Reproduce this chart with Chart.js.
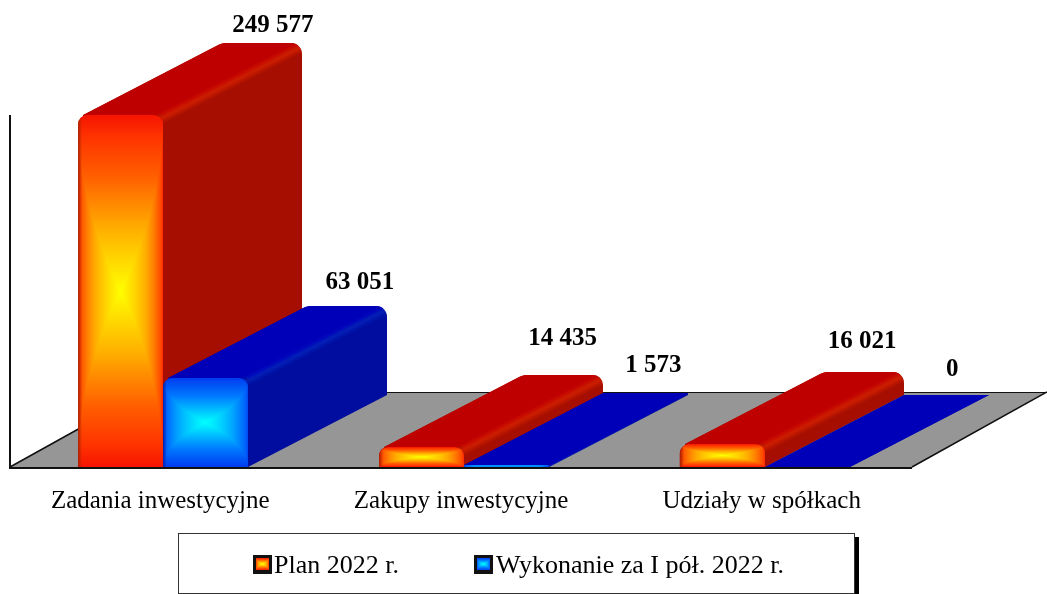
<!DOCTYPE html>
<html><head><meta charset="utf-8">
<style>html,body{margin:0;padding:0;background:#fff;overflow:hidden}canvas{display:block}</style>
<script src="https://cdn.jsdelivr.net/npm/chart.js@4"></script>
</head><body><canvas id="c" width="1047" height="594"></canvas>
<script>
const categories = ["Zadania inwestycyjne", "Zakupy inwestycyjne", "Udziały w spółkach"];
const planValues = [249577, 14435, 16021];
const actualValues = [63051, 1573, 0];
const seriesNames = ["Plan 2022 r.", "Wykonanie za I pół. 2022 r."];

const FONT = '"Liberation Serif","Times New Roman",serif';
const DEPTH = {dx: 139, dy: 72};
const FLOOR = {dx: 135, dy: 75, color: '#969696'};
const THEMES = [
  {top:'#bf0000', side:'#a50e00', bevel:'#d82200', bevelK:1, stops:[[0,[245,20,0]],[.12,[255,50,0]],[.35,[255,95,0]],[.65,[255,175,0]],[1,[255,255,0]]], dark:[170,35,0]},
  {top:'#0000b8', side:'#000d9e', bevel:'#0a30d0', bevelK:.55, stops:[[0,[0,60,240]],[.4,[0,120,255]],[1,[0,255,255]]], dark:[0,35,180]}
];
// label placement relative to the bar's front-top-centre, per series then category
const LABEL_OFFSETS = [
  [[152,-89],[141,-108],[140,-103]],
  [[154,-96],[147,-99],[145,-97]]
];

function ramp(stops,t){
  for(let i=1;i<stops.length;i++){
    if(t<=stops[i][0]){
      const a=stops[i-1],b=stops[i],k=(t-a[0])/(b[0]-a[0]);
      return a[1].map((v,j)=>v+(b[1][j]-v)*k);
    }
  }
  return stops[stops.length-1][1];
}
function pathGradient(w,h,theme,darkPx){
  const cv=document.createElement('canvas');cv.width=w;cv.height=h;
  const g=cv.getContext('2d'),im=g.createImageData(w,h);
  for(let y=0;y<h;y++)for(let x=0;x<w;x++){
    const ex=Math.min(x+.5,w-x-.5),ey=Math.min(y+.5,h-y-.5);
    const t=Math.min(Math.pow(ex/(w/2),.5),ey/(h/2));
    let c=ramp(theme.stops,t);
    if(x<darkPx){const k=1-(x+.5)/darkPx;c=c.map((v,j)=>v+(theme.dark[j]-v)*k);}
    const i=(y*w+x)*4;im.data[i]=c[0];im.data[i+1]=c[1];im.data[i+2]=c[2];im.data[i+3]=255;
  }
  g.putImageData(im,0,0);return cv;
}
function draw3DBar(ctx,el,theme,base){
  const x0=Math.round(el.x-el.width/2),x1=Math.round(el.x+el.width/2),yt=Math.round(el.y),yb=base;
  const {dx,dy}=DEPTH;
  const h=yb-yt;
  const inset=h>6?5:0;
  const xa=x0+inset, xb=xa+dx;
  ctx.save();
  ctx.beginPath();
  ctx.moveTo(xa,yb);
  ctx.lineTo(xa,yt);
  ctx.arcTo(xb,yt-dy,x1+dx,yt-dy,h>6?14:2);
  ctx.arcTo(x1+dx,yt-dy,x1+dx,yb-dy,Math.min(11,Math.max(1,h/2)));
  ctx.lineTo(x1+dx,yb-dy);
  ctx.lineTo(x1,yb);
  ctx.closePath();
  ctx.clip();
  ctx.fillStyle=theme.side;
  ctx.fillRect(x0,yt-dy-2,x1-x0+dx+2,h+dy+4);
  ctx.fillStyle=theme.top;
  ctx.beginPath();ctx.moveTo(xa,yt);ctx.lineTo(xb,yt-dy);ctx.lineTo(x1+dx+2,yt-dy);ctx.lineTo(x1+2,yt);ctx.closePath();ctx.fill();
  ctx.strokeStyle=theme.bevel;ctx.lineCap='round';
  [[12,.14],[9,.22],[6,.32],[3,.45]].forEach(([lw,a])=>{
    ctx.globalAlpha=a*theme.bevelK;ctx.lineWidth=h>6?lw:Math.min(lw,3);
    ctx.beginPath();ctx.moveTo(x1-1,yt+3);ctx.lineTo(x1+dx-3,yt-dy+5);ctx.stroke();
  });
  ctx.globalAlpha=1;
  ctx.restore();
  if(h>=1){
    const img=pathGradient(x1-x0,h,theme,h>6?4:0);
    ctx.save();
    ctx.beginPath();
    const r=Math.min(9,h/2);
    ctx.moveTo(x0,yb);ctx.lineTo(x0,yt+r);ctx.arcTo(x0,yt,x0+r,yt,r);ctx.lineTo(x1-r,yt);ctx.arcTo(x1,yt,x1,yt+r,r);ctx.lineTo(x1,yb);ctx.closePath();
    ctx.clip();
    ctx.drawImage(img,x0,yt);
    ctx.restore();
  }
}
const scene = {
  id:'scene',
  beforeDatasetsDraw(chart){
    const {ctx,chartArea:a}=chart;
    const L=a.left-3,R=a.right-3,B=a.bottom;
    ctx.save();
    ctx.fillStyle=FLOOR.color;
    ctx.beginPath();ctx.moveTo(L,B);ctx.lineTo(L+FLOOR.dx,B-FLOOR.dy);ctx.lineTo(R+FLOOR.dx,B-FLOOR.dy);ctx.lineTo(R,B);ctx.closePath();ctx.fill();
    ctx.strokeStyle='#111';ctx.lineWidth=1;
    ctx.beginPath();ctx.moveTo(L+FLOOR.dx,B-FLOOR.dy+.5);ctx.lineTo(R+FLOOR.dx,B-FLOOR.dy+.5);ctx.stroke();
    ctx.lineWidth=1.5;
    ctx.beginPath();ctx.moveTo(L,B);ctx.lineTo(L+FLOOR.dx,B-FLOOR.dy);ctx.moveTo(R,B);ctx.lineTo(R+FLOOR.dx,B-FLOOR.dy);ctx.stroke();
    ctx.restore();
  },
  afterDatasetsDraw(chart){
    const {ctx,chartArea:a}=chart;
    const B=a.bottom,L=a.left-3,R=a.right-3;
    const m=chart.data.datasets.map((d,i)=>chart.getDatasetMeta(i));
    ctx.save();
    // the flat bars become boxes, painted back to front; hide them first so no corner shows
    categories.forEach((_,c)=>m.forEach((meta,s)=>{
      const el=meta.data[c];
      ctx.fillStyle=FLOOR.color;
      if(B-el.y>0) ctx.fillRect(el.x-el.width/2,Math.min(el.y,B)+0,el.width,0);
      draw3DBar(ctx,el,THEMES[s],B);
    }));
    ctx.strokeStyle='#111';ctx.lineWidth=2;
    ctx.beginPath();ctx.moveTo(L,a.top);ctx.lineTo(L,B+1);ctx.lineTo(R,B+1);ctx.stroke();
    ctx.fillStyle='#000';ctx.font='bold 25px '+FONT;ctx.textAlign='center';ctx.textBaseline='middle';
    m.forEach((meta,s)=>meta.data.forEach((el,c)=>{
      const v=chart.data.datasets[s].data[c];
      const t=String(v).replace(/\B(?=(\d{3})+$)/g,' ');
      const o=LABEL_OFFSETS[s][c];
      ctx.fillText(t,el.x+o[0],el.y+o[1]);
    }));
    ctx.fillStyle='#000';ctx.fillRect(855,537,4,57);
    ctx.fillStyle='#fff';ctx.fillRect(178,533,677,60);
    ctx.strokeStyle='#333';ctx.lineWidth=1;ctx.strokeRect(178.5,533.5,676,60);
    ctx.font='26px '+FONT;ctx.textAlign='left';
    [[253,274],[474,496]].forEach((p,s)=>{
      ctx.fillStyle='#111';ctx.fillRect(p[0],555,19,19);
      ctx.drawImage(pathGradient(13,12,THEMES[s],0),p[0]+3,558);
      ctx.fillStyle='#000';
      ctx.fillText(chart.data.datasets[s].label,p[1],566);
    });
    ctx.restore();
  }
};
new Chart(document.getElementById('c'),{
  type:'bar',
  data:{labels:categories,datasets:[
    {label:seriesNames[0],data:planValues,backgroundColor:'#bf0000',borderWidth:0,borderRadius:{topLeft:9,topRight:9}},
    {label:seriesNames[1],data:actualValues,backgroundColor:'#0000b8',borderWidth:0,borderRadius:{topLeft:9,topRight:9}}
  ]},
  options:{
    responsive:false,animation:false,devicePixelRatio:1,
    layout:{padding:{left:13,right:132,top:115,bottom:0}},
    plugins:{legend:{display:false},tooltip:{enabled:false}},
    datasets:{bar:{categoryPercentage:.565,barPercentage:1}},
    scales:{
      x:{grid:{display:false},border:{display:false},
        ticks:{color:'#000',font:{family:FONT,size:25},padding:11,labelOffset:-3,maxRotation:0},
        afterFit(s){s.height=127;}},
      y:{display:false,min:0,max:Math.max(...planValues,...actualValues)}
    }
  },
  plugins:[scene]
});
</script></body></html>
